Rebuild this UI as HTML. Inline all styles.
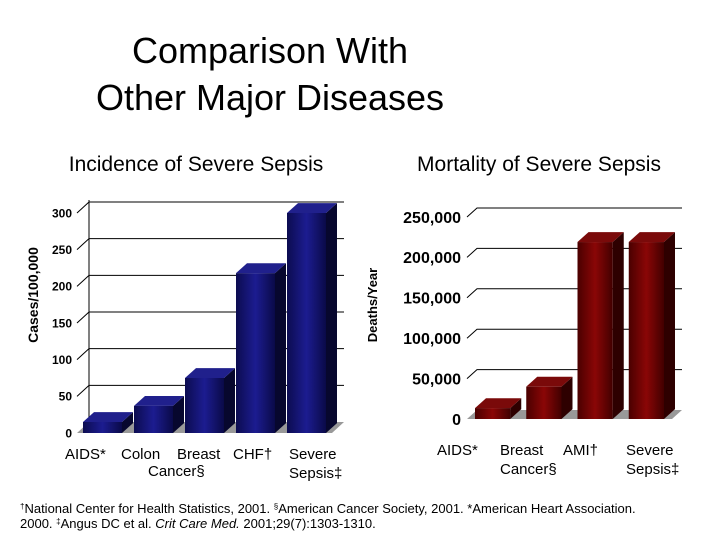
<!DOCTYPE html>
<html><head><meta charset="utf-8"><style>
body{margin:0;background:#fff;}
svg{display:block;font-family:"Liberation Sans",sans-serif;}
</style></head><body>
<svg id="s" width="720" height="540">
<defs>
<linearGradient id="bf" x1="0" x2="1"><stop offset="0" stop-color="#0c0c50"/><stop offset="0.5" stop-color="#1c1c90"/><stop offset="1" stop-color="#0a0a48"/></linearGradient>
<linearGradient id="rf" x1="0" x2="1"><stop offset="0" stop-color="#4a0000"/><stop offset="0.5" stop-color="#8a0606"/><stop offset="1" stop-color="#420000"/></linearGradient>
</defs>
<text x="270" y="63" font-size="36" text-anchor="middle">Comparison With</text>
<text x="270" y="110" font-size="36" text-anchor="middle">Other Major Diseases</text>
<text x="196" y="171" font-size="21" text-anchor="middle">Incidence of Severe Sepsis</text>
<text x="539" y="171" font-size="21" text-anchor="middle">Mortality of Severe Sepsis</text>
<text transform="translate(38,295) rotate(-90)" font-size="14" font-weight="bold" text-anchor="middle">Cases/100,000</text>
<text transform="translate(377,305) rotate(-90)" font-size="13" font-weight="bold" text-anchor="middle">Deaths/Year</text>
<g id="L"></g><g id="R"></g>
<text x="20" y="513" font-size="13"><tspan font-size="8" dy="-4">†</tspan><tspan dy="4">National Center for Health Statistics, 2001. </tspan><tspan font-size="8" dy="-4">§</tspan><tspan dy="4">American Cancer Society, 2001. *American Heart Association.</tspan></text>
<text x="20" y="528" font-size="13">2000. <tspan font-size="8" dy="-4">‡</tspan><tspan dy="4">Angus DC et al. </tspan><tspan font-style="italic">Crit Care Med.</tspan> 2001;29(7):1303-1310.</text>
</svg>
<script>
const leftCategories=[["AIDS*"],["Colon",""],["Breast",""],["CHF†"],["Severe","Sepsis‡"]];
const leftValues=[15,37,75,218,300];
const leftTicks=[0,50,100,150,200,250,300];
const rightCategories=[["AIDS*"],["Breast","Cancer§"],["AMI†"],["Severe","Sepsis‡"]];
const rightValues=[13500,40000,219000,219000];
const rightTicks=[0,50000,100000,150000,200000,250000];
const rightTickLabels=["0","50,000","100,000","150,000","200,000","250,000"];
const NS="http://www.w3.org/2000/svg";
function mk(p,t,a){const e=document.createElementNS(NS,t);for(const k in a)e.setAttribute(k,a[k]);p.appendChild(e);return e;}
function chart(g,o){
  const y=v=>o.y0-v*o.k;
  const fl=mk(g,'polygon',{points:`${o.x0},${o.y0} ${o.x1},${o.y0} ${o.x1+o.dx},${o.y0+o.dy} ${o.x0+o.dx},${o.y0+o.dy}`,fill:'#999'});
  
  
  o.ticks.forEach((t,i)=>{
    if(t>0){const gl=mk(g,'polyline',{points:`${o.x0},${y(t)} ${o.x0+o.dx},${y(t)+o.dy} ${o.x1+o.dx},${y(t)+o.dy}`,fill:'none',stroke:'#000','stroke-width':1});
    
    }
    const tx=mk(g,'text',{x:o.x0-o.lp,y:y(t)+o.fs*0.36,'font-size':o.fs,'font-weight':'bold','text-anchor':'end'});
    tx.textContent=o.labels[i];
    
    
  });
  if(o.wall){const w=mk(g,'line',{x1:o.x0+o.dx,y1:o.y0+o.dy,x2:o.x0+o.dx,y2:y(o.ticks[o.ticks.length-1])+o.dy-2,stroke:'#000'});
    
    }
  const n=o.vals.length, slot=(o.x1-o.x0)/n;
  o.vals.forEach((v,i)=>{
    const bx=o.x0+i*slot+o.pad, bw=slot-2*o.pad, top=y(v);
    const bg=mk(g,'g',{});
    
    
    mk(bg,'polygon',{points:`${bx+bw},${o.y0} ${bx+bw+o.bd},${o.y0-o.bd*0.9} ${bx+bw+o.bd},${top-o.bd*0.9} ${bx+bw},${top}`,fill:o.side});
    mk(bg,'polygon',{points:`${bx},${top} ${bx+o.bd},${top-o.bd*0.9} ${bx+bw+o.bd},${top-o.bd*0.9} ${bx+bw},${top}`,fill:o.topc});
    mk(bg,'rect',{x:bx,y:top,width:bw,height:o.y0-top,fill:o.front});
    const cx=o.lstart+i*o.lstep;
    o.cats[i].forEach((s,j)=>{
      const t=mk(g,'text',{x:cx,y:o.ly+j*19,'font-size':15,'text-anchor':'start'});
      t.textContent=s;
      
      
    });
  });
}
chart(document.getElementById('L'),{x0:77,x1:332,y0:433,k:220/300,dx:12,dy:-11,ticks:leftTicks,labels:leftTicks.map(String),fs:12,lp:5,wall:true,vals:leftValues,cats:leftCategories,pad:6,bd:11,front:'url(#bf)',side:'#07072e',topc:'#20208c',ly:459,lstart:65,lstep:56});
chart(document.getElementById('R'),{x0:467,x1:672,y0:419,k:202/250000,dx:10,dy:-9,ticks:rightTicks,labels:rightTickLabels,fs:16,lp:6,wall:false,vals:rightValues,cats:rightCategories,pad:8,bd:11,front:'url(#rf)',side:'#2e0000',topc:'#7a0a0a',ly:455,lstart:437,lstep:63});
</script>
<svg width="0" height="0" style="position:absolute"></svg>
<div style="position:absolute;left:148px;top:463px;font:15px 'Liberation Sans',sans-serif">Cancer§</div>
</body></html>
